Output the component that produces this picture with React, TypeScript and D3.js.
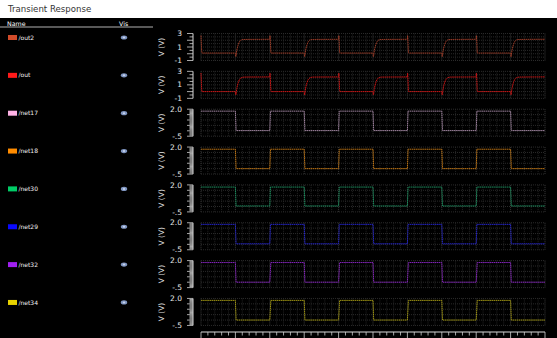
import React from 'react';
import * as d3 from 'd3';

// signal names and colours (legend swatch / trace)
const signalNames = ['/out2', '/out', '/net17', '/net18', '/net30', '/net29', '/net32', '/net34'];
const swatchColors = ['#d14b2a', '#ff1a1a', '#ffb3e6', '#ff8c00', '#00cc66', '#0a0aff', '#a020f0', '#e6d200'];
const traceColors = ['#9a3c28', '#c81616', '#9c809c', '#bb7212', '#1c8a5c', '#2424c4', '#8224b8', '#9c9212'];

// y axis range and labels per panel
const outDomain: [number, number] = [-1, 3];
const netDomain: [number, number] = [-0.5, 2];
const outTickLabels = ['3', '1', '-1'];
const netTickLabels = ['2.0', '-.5'];

// waveforms as [time, volts] breakpoints
const out2Pts: [number, number][] = [
  [0, 2.7], [0.3, 0.1], [10, 0.1], [10.1, -0.45], [10.4, 0.5], [10.8, 1.3], [11.2, 1.8], [11.7, 2.05], [12.5, 2.12], [20, 2.15],
  [20.05, 2.7], [20.35, 0.1], [30, 0.1], [30.1, -0.45], [30.4, 0.5], [30.8, 1.3], [31.2, 1.8], [31.7, 2.05], [32.5, 2.12], [40, 2.15],
  [40.05, 2.7], [40.35, 0.1], [50, 0.1], [50.1, -0.45], [50.4, 0.5], [50.8, 1.3], [51.2, 1.8], [51.7, 2.05], [52.5, 2.12], [60, 2.15],
  [60.05, 2.7], [60.35, 0.1], [70, 0.1], [70.1, -0.45], [70.4, 0.5], [70.8, 1.3], [71.2, 1.8], [71.7, 2.05], [72.5, 2.12], [80, 2.15],
  [80.05, 2.7], [80.35, 0.1], [90, 0.1], [90.1, -0.45], [90.4, 0.5], [90.8, 1.3], [91.2, 1.8], [91.7, 2.05], [92.5, 2.12], [100, 2.15],
];
const outPts: [number, number][] = [
  [0, 2.75], [0.3, 0.0], [10, 0.0], [10.1, -0.5], [10.4, 0.45], [10.8, 1.3], [11.2, 1.8], [11.7, 2.05], [12.5, 2.15], [20, 2.18],
  [20.05, 2.75], [20.35, 0.0], [30, 0.0], [30.1, -0.5], [30.4, 0.45], [30.8, 1.3], [31.2, 1.8], [31.7, 2.05], [32.5, 2.15], [40, 2.18],
  [40.05, 2.75], [40.35, 0.0], [50, 0.0], [50.1, -0.5], [50.4, 0.45], [50.8, 1.3], [51.2, 1.8], [51.7, 2.05], [52.5, 2.15], [60, 2.18],
  [60.05, 2.75], [60.35, 0.0], [70, 0.0], [70.1, -0.5], [70.4, 0.45], [70.8, 1.3], [71.2, 1.8], [71.7, 2.05], [72.5, 2.15], [80, 2.18],
  [80.05, 2.75], [80.35, 0.0], [90, 0.0], [90.1, -0.5], [90.4, 0.45], [90.8, 1.3], [91.2, 1.8], [91.7, 2.05], [92.5, 2.15], [100, 2.18],
];
const net17Pts: [number, number][] = [
  [0, 1.82], [10, 1.82], [10.2, 0.02], [20, 0.02], [20.2, 1.82], [30, 1.82], [30.2, 0.02], [40, 0.02], [40.2, 1.82], [50, 1.82],
  [50.2, 0.02], [60, 0.02], [60.2, 1.82], [70, 1.82], [70.2, 0.02], [80, 0.02], [80.2, 1.82], [90, 1.82], [90.2, 0.02], [100, 0.02],
];
const net18Pts: [number, number][] = [
  [0, 1.8], [10, 1.8], [10.2, 0.0], [20, 0.0], [20.2, 1.8], [30, 1.8], [30.2, 0.0], [40, 0.0], [40.2, 1.8], [50, 1.8],
  [50.2, 0.0], [60, 0.0], [60.2, 1.8], [70, 1.8], [70.2, 0.0], [80, 0.0], [80.2, 1.8], [90, 1.8], [90.2, 0.0], [100, 0.0],
];
const net30Pts: [number, number][] = [
  [0, 1.8], [10, 1.8], [10.2, 0.05], [20, 0.05], [20.2, 1.8], [30, 1.8], [30.2, 0.05], [40, 0.05], [40.2, 1.8], [50, 1.8],
  [50.2, 0.05], [60, 0.05], [60.2, 1.8], [70, 1.8], [70.2, 0.05], [80, 0.05], [80.2, 1.8], [90, 1.8], [90.2, 0.05], [100, 0.05],
];
const net29Pts: [number, number][] = [
  [0, 1.85], [10, 1.85], [10.2, 0.05], [20, 0.05], [20.2, 1.85], [30, 1.85], [30.2, 0.05], [40, 0.05], [40.2, 1.85], [50, 1.85],
  [50.2, 0.05], [60, 0.05], [60.2, 1.85], [70, 1.85], [70.2, 0.05], [80, 0.05], [80.2, 1.85], [90, 1.85], [90.2, 0.05], [100, 0.05],
];
const net32Pts: [number, number][] = [
  [0, 1.82], [10, 1.82], [10.2, 0.0], [20, 0.0], [20.3, 1.82], [30, 1.82], [30.2, 0.0], [40, 0.0], [40.3, 1.82], [50, 1.82],
  [50.2, 0.0], [60, 0.0], [60.3, 1.82], [70, 1.82], [70.2, 0.0], [80, 0.0], [80.3, 1.82], [90, 1.82], [90.2, 0.0], [100, 0.0],
];
const net34Pts: [number, number][] = [
  [0, 1.82], [10, 1.82], [10.2, 0.0], [20, 0.0], [20.3, 1.82], [30, 1.82], [30.2, 0.0], [40, 0.0], [40.3, 1.82], [50, 1.82],
  [50.2, 0.0], [60, 0.0], [60.3, 1.82], [70, 1.82], [70.2, 0.0], [80, 0.0], [80.3, 1.82], [90, 1.82], [90.2, 0.0], [100, 0.0],
];
const series = [out2Pts, outPts, net17Pts, net18Pts, net30Pts, net29Pts, net32Pts, net34Pts];

const W = 557;
const H = 338;
const plotLeft = 201;
const plotRight = 545;
const firstTop = 33.5;
const panelStep = 37.85;
const panelH = 27;
const axisY = 332;
const font = '"DejaVu Sans", Verdana, sans-serif';

const x = d3.scaleLinear().domain([0, 100]).range([plotLeft, plotRight]);
const xMinor = d3.range(0, 100.001, 2);
const xMajor = d3.range(0, 100.001, 10);

const Panel = ({ idx }: { idx: number }) => {
  const top = firstTop + panelStep * idx;
  const isOut = idx < 2;
  const domain = isOut ? outDomain : netDomain;
  const y = d3.scaleLinear().domain(domain).range([top + panelH, top]);
  const labels = isOut ? outTickLabels : netTickLabels;
  const minorStep = isOut ? 0.5 : 0.1;
  const majorStep = isOut ? 1 : 0.5;
  const yTicks = d3.range(domain[0], domain[1] + 1e-6, minorStep);
  const yGrid = d3.range(domain[0], domain[1] + 1e-6, 0.5);
  const line = d3.line<[number, number]>()
    .x(d => x(d[0]))
    .y(d => y(d[1]))
    .curve(isOut ? d3.curveMonotoneX : d3.curveLinear);
  const midY = top + panelH / 2;

  return (
    <g>
      {/* grid */}
      {xMinor.map((t, i) => (
        <line key={'gx' + i} x1={x(t)} x2={x(t)} y1={top} y2={top + panelH}
          stroke={xMajor.includes(t) ? '#3a3a3a' : '#232323'} strokeWidth={1} strokeDasharray="1 1" />
      ))}
      {yGrid.map((v, i) => (
        <line key={'gy' + i} x1={plotLeft} x2={plotRight} y1={y(v)} y2={y(v)}
          stroke="#2a2a2a" strokeWidth={1} strokeDasharray="1 1" />
      ))}
      {/* y axis */}
      <line x1={193} x2={193} y1={top} y2={top + panelH} stroke="#d8d8d8" strokeWidth={1} />
      {yTicks.map((v, i) => {
        const major = Math.abs(v / majorStep - Math.round(v / majorStep)) < 1e-6;
        return (
          <line key={'yt' + i} x1={major ? 187 : 189.5} x2={193} y1={y(v)} y2={y(v)}
            stroke="#d0d0d0" strokeWidth={0.8} />
        );
      })}
      {labels.map((lab, i) => (
        <text key={'yl' + i} x={182} y={y(+lab)} dy="0.35em" textAnchor="end"
          fill="#e8e8e8" fontSize={7.5} fontFamily={font}>{lab}</text>
      ))}
      <text transform={`translate(161.5,${midY}) rotate(-90)`} textAnchor="middle" dy="0.35em"
        fill="#e8e8e8" fontSize={7.5} fontFamily={font}>V (V)</text>
      {/* trace */}
      <path d={line(series[idx]) || ''} fill="none" stroke={traceColors[idx]} strokeWidth={1}
        strokeDasharray="1.6 0.5" />
    </g>
  );
};

const App = () => {
  const rows = signalNames.map((n, i) => ({ name: n, cy: firstTop + 4 + panelStep * i }));
  const bMinor = d3.range(0, 100.001, 2);

  return (
    <svg width={W} height={H} style={{ position: 'fixed', left: 0, top: 0, display: 'block' }}>
      <rect x={0} y={0} width={W} height={H} fill="#000" />
      <rect x={0} y={0} width={W} height={18} fill="#fff" />
      <text x={8} y={12} fill="#333" fontSize={8.6} fontFamily={font}>Transient Response</text>

      {/* list header */}
      <text x={7} y={25.5} fill="#fff" fontSize={6.3} fontFamily={font}>Name</text>
      <text x={119} y={25.5} fill="#fff" fontSize={6.3} fontFamily={font}>Vis</text>
      <line x1={0} x2={153} y1={27} y2={27} stroke="#e0e0e0" strokeWidth={0.8} />

      {rows.map((r, i) => (
        <g key={r.name}>
          <rect x={8} y={r.cy - 2.5} width={9} height={5} fill={swatchColors[i]} />
          <text x={18.5} y={r.cy} dy="0.35em" fill="#f0f0f0" fontSize={6} fontFamily={font}>{r.name}</text>
          <ellipse cx={124} cy={r.cy} rx={3.2} ry={2.1} fill="#7f95c0" />
          <ellipse cx={124} cy={r.cy} rx={1.2} ry={1} fill="#c8d4ec" />
        </g>
      ))}

      {signalNames.map((n, i) => <Panel key={n} idx={i} />)}

      {/* time axis */}
      <line x1={plotLeft} x2={plotRight} y1={axisY} y2={axisY} stroke="#d8d8d8" strokeWidth={1} />
      {bMinor.map((t, i) => (
        <line key={'bt' + i} x1={x(t)} x2={x(t)} y1={axisY} y2={axisY + (t % 10 === 0 ? 6 : 3.5)}
          stroke="#d0d0d0" strokeWidth={0.8} />
      ))}
    </svg>
  );
};

export default App;
